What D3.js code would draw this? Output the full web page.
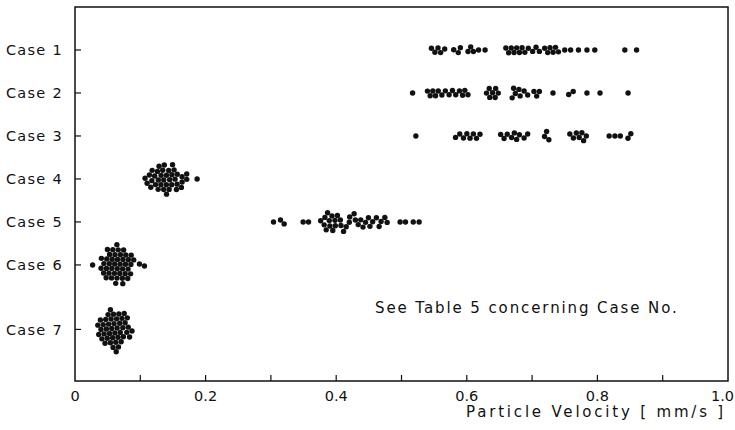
<!DOCTYPE html>
<html>
<head>
<meta charset="utf-8">
<script src="https://cdn.jsdelivr.net/npm/d3@7"></script>
<style>
  body { margin: 0; background: #fff; }
  text { font-family: "DejaVu Sans", sans-serif; fill: #111; }
</style>
</head>
<body>
<div id="chart"></div>
<script>
// cases and their slot on the vertical axis (case 7 sits a bit lower)
const cases = ["Case 1", "Case 2", "Case 3", "Case 4", "Case 5", "Case 6", "Case 7"];
const caseSlot = [1, 2, 3, 4, 5, 6, 7.5];

// particle velocities [mm/s]
const case1 = [0.546, 0.551, 0.556, 0.560, 0.566, 0.580, 0.587, 0.590, 0.602, 0.606, 0.610, 0.618, 0.628,
  0.660, 0.665, 0.669, 0.672, 0.676, 0.680, 0.684, 0.689, 0.694, 0.701, 0.706, 0.711, 0.720, 0.724, 0.727,
  0.732, 0.736, 0.740, 0.750, 0.759, 0.771, 0.784, 0.796, 0.842, 0.860];
const case2 = [0.517, 0.540, 0.544, 0.548, 0.552, 0.556, 0.562, 0.567, 0.573, 0.578, 0.583, 0.589, 0.594,
  0.597, 0.601, 0.631, 0.634, 0.636, 0.640, 0.642, 0.644, 0.648, 0.670, 0.673, 0.675, 0.678, 0.681, 0.688,
  0.693, 0.704, 0.707, 0.710, 0.732, 0.757, 0.762, 0.784, 0.804, 0.847];
const case3 = [0.522, 0.583, 0.589, 0.595, 0.600, 0.605, 0.610, 0.615, 0.620, 0.652, 0.657, 0.662, 0.669,
  0.673, 0.676, 0.680, 0.688, 0.693, 0.720, 0.722, 0.725, 0.758, 0.763, 0.768, 0.773, 0.776, 0.778, 0.783,
  0.818, 0.827, 0.835, 0.847, 0.851];
const case4 = [0.108, 0.112, 0.115, 0.117, 0.119, 0.121, 0.122, 0.124, 0.125, 0.127, 0.128, 0.130, 0.131,
  0.132, 0.134, 0.135, 0.136, 0.138, 0.139, 0.140, 0.141, 0.143, 0.144, 0.145, 0.147, 0.148, 0.150, 0.151,
  0.153, 0.155, 0.156, 0.158, 0.160, 0.162, 0.165, 0.168, 0.171, 0.187];
const case5 = [0.304, 0.315, 0.320, 0.350, 0.357, 0.378, 0.381, 0.383, 0.385, 0.387, 0.389, 0.391, 0.393,
  0.395, 0.397, 0.399, 0.402, 0.405, 0.408, 0.412, 0.415, 0.419, 0.422, 0.426, 0.430, 0.434, 0.437, 0.441,
  0.445, 0.449, 0.452, 0.456, 0.461, 0.466, 0.469, 0.474, 0.478, 0.498, 0.506, 0.518, 0.527];
const case6 = [0.027, 0.042, 0.045, 0.047, 0.049, 0.050, 0.052, 0.053, 0.054, 0.055, 0.056, 0.057, 0.058,
  0.058, 0.059, 0.060, 0.061, 0.061, 0.062, 0.063, 0.063, 0.064, 0.065, 0.065, 0.066, 0.067, 0.067, 0.068,
  0.069, 0.070, 0.070, 0.071, 0.072, 0.073, 0.074, 0.075, 0.076, 0.078, 0.079, 0.081, 0.083, 0.086, 0.088,
  0.099, 0.106];
const case7 = [0.036, 0.039, 0.041, 0.043, 0.044, 0.046, 0.047, 0.048, 0.049, 0.050, 0.051, 0.052, 0.053,
  0.054, 0.054, 0.055, 0.056, 0.057, 0.057, 0.058, 0.059, 0.060, 0.060, 0.061, 0.062, 0.063, 0.063, 0.064,
  0.065, 0.066, 0.067, 0.068, 0.069, 0.070, 0.071, 0.072, 0.074, 0.075, 0.077, 0.079, 0.081, 0.083, 0.086];
const velocities = [case1, case2, case3, case4, case5, case6, case7];

const xTicks = [0, 0.1, 0.2, 0.3, 0.4, 0.5, 0.6, 0.7, 0.8, 0.9, 1.0];
const xLabels = ["0", "0.2", "0.4", "0.6", "0.8", "1.0"];

const width = 735, height = 430;
const margin = {top: 7, right: 7, bottom: 49, left: 75};

const svg = d3.select("#chart").append("svg")
  .attr("width", width)
  .attr("height", height);

const x = d3.scaleLinear().domain([0, 1]).range([margin.left, width - margin.right]);
const y = d3.scaleLinear().domain([0, 8.7]).range([margin.top, height - margin.bottom]);

// frame
svg.append("rect")
  .attr("x", x(0)).attr("y", y(0))
  .attr("width", x(1) - x(0)).attr("height", y(8.7) - y(0))
  .attr("fill", "none").attr("stroke", "#111").attr("stroke-width", 1.5);

// x ticks pointing inwards
svg.append("g").selectAll("line")
  .data(xTicks.slice(1, -1))
  .join("line")
  .attr("x1", d => x(d)).attr("x2", d => x(d))
  .attr("y1", y(8.7)).attr("y2", y(8.7) - 6)
  .attr("stroke", "#111").attr("stroke-width", 1.2);

// the last label hugs the page edge like in the print
svg.append("g").selectAll("text")
  .data(xLabels)
  .join("text")
  .attr("x", (d, i) => i === xLabels.length - 1 ? width - 1 : x(+d))
  .attr("y", 401)
  .attr("text-anchor", (d, i) => i === xLabels.length - 1 ? "end" : "middle")
  .style("font-size", "14.5px")
  .text(d => d);

svg.append("text")
  .attr("x", x(1) - 2)
  .attr("y", 417)
  .attr("text-anchor", "end")
  .style("font-size", "15px")
  .style("letter-spacing", "2.8px")
  .text("Particle Velocity [ mm/s ]");

// y ticks and case labels
svg.append("g").selectAll("line")
  .data(caseSlot)
  .join("line")
  .attr("x1", x(0)).attr("x2", x(0) + 6)
  .attr("y1", d => y(d)).attr("y2", d => y(d))
  .attr("stroke", "#111").attr("stroke-width", 1.2);

svg.append("g").selectAll("text")
  .data(cases)
  .join("text")
  .attr("x", 63)
  .attr("y", (d, i) => y(caseSlot[i]))
  .attr("dy", "0.36em")
  .attr("text-anchor", "end")
  .style("font-size", "14.5px")
  .style("letter-spacing", "1.3px")
  .text(d => d);

svg.append("text")
  .attr("x", 375)
  .attr("y", 313)
  .style("font-size", "15px")
  .style("letter-spacing", "1.9px")
  .text("See Table 5 concerning Case No.");

// beeswarm of the measured particles
const r = 2.7;
const nodes = velocities.flatMap((vals, i) => vals.map(v => ({
  v, c: i, x: x(v), y: y(caseSlot[i])
})));

const sim = d3.forceSimulation(nodes)
  .force("x", d3.forceX(d => x(d.v)).strength(0.9))
  .force("y", d3.forceY(d => y(caseSlot[d.c])).strength(0.08))
  .force("collide", d3.forceCollide(r))
  .stop();
for (let i = 0; i < 300; i++) sim.tick();

svg.append("g").selectAll("circle")
  .data(nodes)
  .join("circle")
  .attr("cx", d => d.x)
  .attr("cy", d => d.y)
  .attr("r", r)
  .attr("fill", "#111");
</script>
</body>
</html>
